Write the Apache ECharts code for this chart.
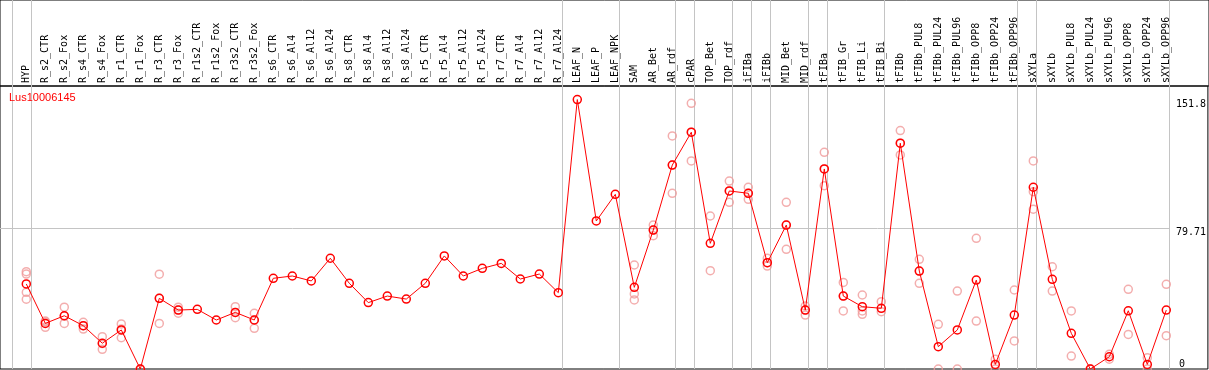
<!DOCTYPE html>
<html><head><meta charset="utf-8">
<script src="https://cdn.jsdelivr.net/npm/echarts@6/dist/echarts.min.js"></script>
<style>html,body{margin:0;padding:0;background:#fff}#c{width:1209px;height:370px}</style>
</head><body><div id="c"></div>
<script>
const seriesName = 'Lus10006145';
const categories = ['HYP','R_s2_CTR','R_s2_Fox','R_s4_CTR','R_s4_Fox','R_r1_CTR','R_r1_Fox','R_r3_CTR','R_r3_Fox','R_r1s2_CTR','R_r1s2_Fox','R_r3s2_CTR','R_r3s2_Fox','R_s6_CTR','R_s6_Al4','R_s6_Al12','R_s6_Al24','R_s8_CTR','R_s8_Al4','R_s8_Al12','R_s8_Al24','R_r5_CTR','R_r5_Al4','R_r5_Al12','R_r5_Al24','R_r7_CTR','R_r7_Al4','R_r7_Al12','R_r7_Al24','LEAF_N','LEAF_P','LEAF_NPK','SAM','AR_Bet','AR_rdf','cPAR','TOP_Bet','TOP_rdf','iFIBa','iFIBb','MID_Bet','MID_rdf','tFIBa','tFIB_Gr','tFIB_Li','tFIB_Bi','tFIBb','tFIBb_PUL8','tFIBb_PUL24','tFIBb_PUL96','tFIBb_OPP8','tFIBb_OPP24','tFIBb_OPP96','sXYLa','sXYLb','sXYLb_PUL8','sXYLb_PUL24','sXYLb_PUL96','sXYLb_OPP8','sXYLb_OPP24','sXYLb_OPP96'];
const meanValues = [47.9,25.7,30.0,24.4,14.5,22.0,0,39.8,33.2,33.6,27.6,31.9,27.6,51.1,52.4,49.6,62.4,48.3,37.4,41.1,39.4,48.3,63.7,52.4,56.7,59.5,50.7,53.5,43.0,151.8,83.4,98.4,46.0,78.3,114.9,133.4,70.8,100.3,99.0,59.9,81.1,33.2,112.7,41.1,35.1,34.2,127.2,55.2,12.6,22.0,50.1,2.6,30.4,102.4,50.5,20.1,0,6.9,32.8,2.6,33.2];
const replicateValues = [
  [54.8,53.5,43.2,39.3],[27.0,26.5,23.5],[34.8,29.8,25.7],[26.3,24.4,22.5],[18.2,14.3,11.1],
  [25.4,22.5,17.6],[0,0],[53.4,39.8,25.7],[34.8,33.2,31.4],[],[],[35.1,31.9,28.9],[31.4,27.6,22.9],
  [],[],[],[],[],[],[],[],[],[],[],[],[],[],[],[],
  [],[],[],
  [58.6,42.3,38.9],[81.1,78.3,75.1],[131.3,114.9,99.0],[149.7,133.4,117.2],[86.2,55.4],
  [105.9,100.3,93.9],[102.4,99.0,95.6],[62.4,59.9,58.0],[93.9,81.1,67.4],[35.5,33.2,30.4],
  [122.1,112.7,103.3],[48.8,41.1,32.7],[41.7,32.7,30.8],[37.9,32.3],[134.3,127.2,120.6],
  [61.8,55.2,48.3],[25.2,0],[43.9,0],[73.6,27.0],[5.5,0],[44.5,15.8],
  [117.2,99.9,90.0],[57.6,43.9],[32.7,7.3],[0,0],[8.3,5.5],[44.9,19.5],[6.4,0],[47.7,18.8]
];
const separatorAfter = [-1,0,28,31,34,35,37,38,39,41,42,45,52,53,60];
const yTickLabels = [79.71, 151.8];
const yZeroLabel = [0];
const refLineValue = 79.71;

const CAT_W = 19, FIRST_X = 26.3, W = 1209, HEADER_H = 86;
const XMIN = -FIRST_X / CAT_W;
const XMAX = XMIN + (W + 1) / CAT_W;
const YMAX = 159.44;
const SEP_OFFSET = 4.3 / CAT_W;
const GRAY = '#c4c4c4';
const MONO = 'DejaVu Sans Mono';

const repData = [];
replicateValues.forEach((arr, i) => arr.forEach(v => repData.push([i, v])));

const chart = echarts.init(document.getElementById('c'), null, {renderer: 'canvas'});
chart.setOption({
  animation: false,
  backgroundColor: '#fff',
  title: {text: seriesName, left: 9, top: 92, padding: 0,
    textStyle: {color: '#ff0000', fontSize: 11, fontWeight: 'normal', fontFamily: 'Liberation Sans'}},
  grid: [
    {left: 0, right: -1, top: HEADER_H, bottom: 1, show: true, borderColor: '#000', borderWidth: 1, backgroundColor: 'transparent'},
    {left: 0, right: -1, top: 0, height: HEADER_H, show: true, borderColor: '#000', borderWidth: 1, backgroundColor: 'transparent'},
    {left: FIRST_X - CAT_W / 2, width: CAT_W * categories.length, top: HEADER_H, bottom: 1}
  ],
  xAxis: [
    {type: 'value', gridIndex: 0, min: XMIN, max: XMAX, show: false},
    {type: 'value', gridIndex: 1, min: XMIN, max: XMAX, show: false},
    {type: 'category', gridIndex: 2, position: 'top', data: categories, boundaryGap: true,
      axisLine: {show: false}, axisTick: {show: false}, splitLine: {show: false},
      axisLabel: {interval: 0, rotate: 90, margin: 3, fontFamily: MONO, fontSize: 10, color: '#000'}}
  ],
  yAxis: [
    {type: 'value', gridIndex: 0, min: 0, max: YMAX, position: 'right',
      axisLine: {show: false}, axisTick: {show: false}, splitLine: {show: false},
      axisLabel: {customValues: yTickLabels, inside: true, align: 'left', verticalAlign: 'top', margin: 32,
        fontFamily: MONO, fontSize: 10, color: '#000', formatter: v => String(v)}},
    {type: 'value', gridIndex: 0, min: 0, max: YMAX, position: 'right',
      axisLine: {show: false}, axisTick: {show: false}, splitLine: {show: false},
      axisLabel: {customValues: yZeroLabel, inside: true, align: 'left', verticalAlign: 'bottom', margin: 29,
        fontFamily: MONO, fontSize: 10, color: '#000', formatter: v => String(v)}},
    {type: 'value', gridIndex: 1, min: 0, max: 1, show: false},
    {type: 'value', gridIndex: 2, min: 0, max: YMAX, show: false}
  ],
  series: [
    {type: 'custom', xAxisIndex: 0, yAxisIndex: 0, silent: true, z: 1,
      data: separatorAfter.map(k => [k + SEP_OFFSET, 0]),
      encode: {x: 0, y: 1},
      renderItem: (params, api) => {
        const p = api.coord([api.value(0), 0]);
        const x = Math.round(p[0]) + 0.5;
        return {type: 'line', shape: {x1: x, y1: 0, x2: x, y2: p[1]}, style: {stroke: GRAY, lineWidth: 1}};
      }},
    {type: 'custom', xAxisIndex: 0, yAxisIndex: 0, silent: true, z: 1,
      data: [[XMIN, refLineValue]],
      encode: {x: 0, y: 1},
      renderItem: (params, api) => {
        const p0 = api.coord([api.value(0), api.value(1)]);
        const p1 = api.coord([separatorAfter[separatorAfter.length - 1] + SEP_OFFSET, api.value(1)]);
        const y = Math.round(p0[1]) + 0.5;
        return {type: 'line', shape: {x1: p0[0], y1: y, x2: Math.round(p1[0]) + 1, y2: y}, style: {stroke: GRAY, lineWidth: 1}};
      }},
    {type: 'scatter', xAxisIndex: 2, yAxisIndex: 3, silent: true, z: 3,
      data: repData, symbol: 'circle', symbolSize: 8,
      itemStyle: {color: 'rgba(0,0,0,0)', borderColor: '#f09a9a', borderWidth: 1.5}},
    {type: 'line', name: seriesName, xAxisIndex: 2, yAxisIndex: 3, silent: true, z: 4,
      data: meanValues, showAllSymbol: true, symbol: 'circle', symbolSize: 8,
      lineStyle: {color: '#ff0000', width: 1},
      itemStyle: {color: 'rgba(0,0,0,0)', borderColor: '#ff0000', borderWidth: 1.5}}
  ]
});
</script></body></html>
